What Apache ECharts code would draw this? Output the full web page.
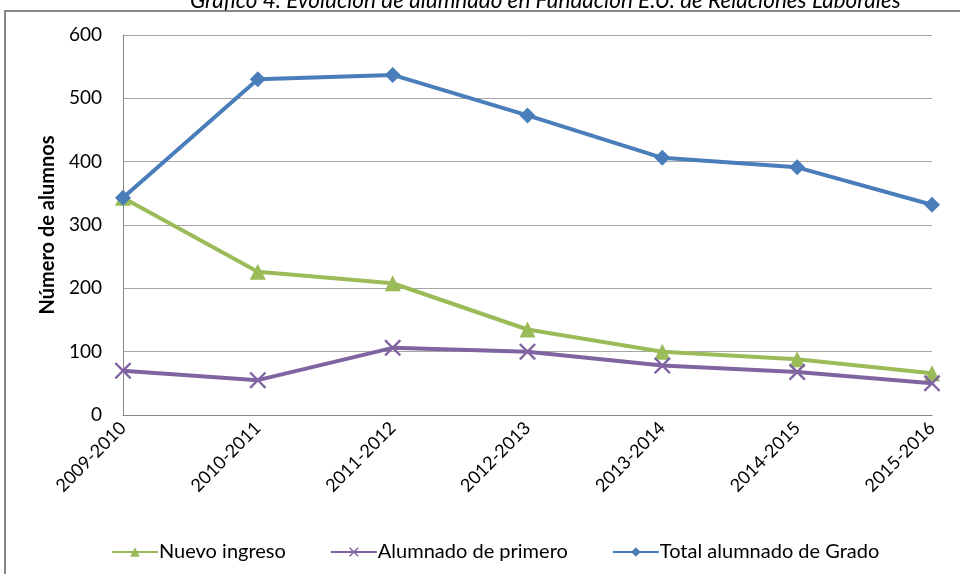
<!DOCTYPE html>
<html>
<head>
<meta charset="utf-8">
<script src="https://cdn.jsdelivr.net/npm/echarts@6/dist/echarts.min.js"></script>
<style>
  html, body { margin: 0; padding: 0; background: #fff; }
  #main { width: 960px; height: 574px; }
</style>
</head>
<body>
<div id="main"></div>
<script>
var cursos = ['2009-2010', '2010-2011', '2011-2012', '2012-2013', '2013-2014', '2014-2015', '2015-2016'];
var nuevoIngreso = [343, 226, 208, 135, 100, 88, 66];
var alumnadoPrimero = [70, 55, 106, 100, 78, 68, 50];
var totalGrado = [343, 530, 537, 473, 406, 391, 332];

var myChart = echarts.init(document.getElementById('main'));

// cruz rellena para "Alumnado de primero"
var cruz = 'path://M0,1L1,0L5,4L9,0L10,1L6,5L10,9L9,10L5,6L1,10L0,9L4,5Z';
var fuente = 'Lato, "Liberation Sans", sans-serif';

var option = {
    title: {
        text: 'Gráfico 4. Evolución de alumnado en Fundación E.U. de Relaciones Laborales',
        left: 190,
        top: -11,
        padding: 0,
        textStyle: { fontFamily: fuente, fontStyle: 'italic', fontWeight: 'normal', fontSize: 22.5, color: '#000' }
    },
    graphic: [{
        type: 'rect',
        shape: { x: 5, y: 11, width: 1000, height: 1000 },
        style: { fill: 'none', stroke: '#868686', lineWidth: 2 },
        silent: true
    }],
    color: ['#9BBB59', '#8064A2', '#4A7EBB'],
    legend: {
        left: 106,
        top: 537,
        itemWidth: 46,
        itemHeight: 12,
        itemGap: 44,
        textStyle: { fontFamily: fuente, fontSize: 20, color: '#000', padding: [0, 0, 0, -4] },
        data: ['Nuevo ingreso', 'Alumnado de primero', 'Total alumnado de Grado']
    },
    grid: { left: 123, right: 28, top: 35, bottom: 159 },
    xAxis: {
        type: 'category',
        boundaryGap: false,
        data: cursos,
        axisLine: { lineStyle: { color: '#868686', width: 1 } },
        axisTick: { show: false },
        axisLabel: { rotate: 45, margin: 10, fontFamily: fuente, fontSize: 18, color: '#000' }
    },
    yAxis: {
        type: 'value',
        min: 0,
        max: 600,
        interval: 100,
        name: 'Número de alumnos',
        nameLocation: 'middle',
        nameGap: 62,
        nameTextStyle: { fontFamily: fuente, fontWeight: 'bold', fontSize: 20, color: '#000' },
        axisLine: { show: true, lineStyle: { color: '#868686', width: 1 } },
        axisTick: { show: false },
        axisLabel: { margin: 21, fontFamily: fuente, fontSize: 19, color: '#000' },
        splitLine: { lineStyle: { color: '#a6a6a6', width: 1 } }
    },
    series: [
        {
            name: 'Nuevo ingreso',
            type: 'line',
            data: nuevoIngreso,
            symbol: 'triangle',
            symbolSize: 16,
            lineStyle: { width: 4 },
            z: 2
        },
        {
            name: 'Alumnado de primero',
            type: 'line',
            data: alumnadoPrimero,
            symbol: cruz,
            symbolSize: 17,
            lineStyle: { width: 4 },
            z: 3
        },
        {
            name: 'Total alumnado de Grado',
            type: 'line',
            data: totalGrado,
            symbol: 'diamond',
            symbolSize: 16,
            lineStyle: { width: 4 },
            z: 4
        }
    ]
};

myChart.setOption(option);
</script>
</body>
</html>
